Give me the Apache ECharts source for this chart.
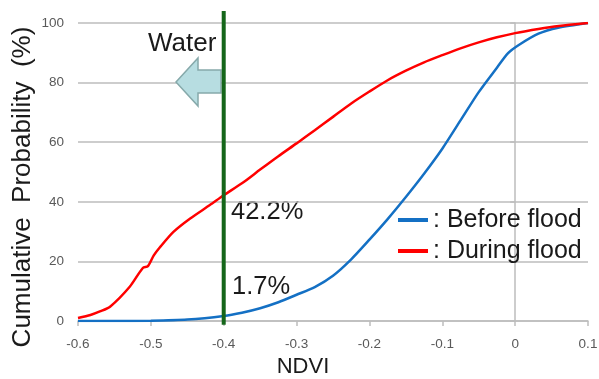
<!DOCTYPE html>
<html>
<head>
<meta charset="utf-8">
<script src="https://cdn.jsdelivr.net/npm/echarts@6/dist/echarts.min.js"></script>
<style>
  html, body { margin: 0; padding: 0; background: #fff; }
  #main { width: 599px; height: 379px; }
</style>
</head>
<body>
<div id="main"></div>
<script>
// NDVI values and cumulative probability (%)
var duringX = [-0.6, -0.583, -0.57, -0.556, -0.529, -0.511, -0.504, -0.496, -0.487, -0.469,
  -0.446, -0.419, -0.4, -0.375, -0.35, -0.325, -0.3, -0.275, -0.25, -0.225, -0.2, -0.175,
  -0.15, -0.125, -0.1, -0.075, -0.05, -0.025, 0, 0.032, 0.06, 0.1];
var duringY = [1, 2, 3.2, 4.8, 11.5, 17.8, 18.4, 22, 24.9, 29.9,
  34.4, 38.9, 42.2, 46.2, 50.8, 55.3, 59.6, 64, 68.5, 73, 77, 80.8,
  84, 86.8, 89.2, 91.5, 93.5, 95.2, 96.6, 98, 99, 100];

var beforeX = [-0.6, -0.55, -0.5, -0.45, -0.4, -0.375, -0.35, -0.325, -0.3, -0.275, -0.25,
  -0.225, -0.2, -0.175, -0.15, -0.125, -0.1, -0.075, -0.05, -0.025, -0.01, 0.005,
  0.032, 0.059, 0.1];
var beforeY = [0, 0, 0.1, 0.5, 1.7, 2.8, 4.3, 6.3, 8.8, 11.4, 15.2,
  20.7, 27.3, 34.2, 41.6, 49.4, 57.8, 67.3, 76.8, 85, 89.8, 92.6,
  96.4, 98.4, 100];

var thresholdX = -0.4;
var thresholdY = [-1.3, 104];

function pairs(xs, ys) {
  return xs.map(function (x, i) { return [x, ys[i]]; });
}

var font = 'Liberation Sans';
var grey = '#bdbdbd';

var chart = echarts.init(document.getElementById('main'));
var option = {
  animation: false,
  textStyle: { fontFamily: font },
  grid: { left: 78, right: 11, top: 23, bottom: 58, outerBoundsMode: 'none' },
  legend: {
    orient: 'vertical',
    left: 398,
    top: 206,
    padding: 0,
    itemGap: 3,
    itemWidth: 30,
    itemHeight: 4,
    icon: 'rect',
    formatter: ': {name}',
    data: ['Before flood', 'During flood'],
    textStyle: { fontSize: 25, color: '#1a1a1a', lineHeight: 28, fontFamily: font }
  },
  xAxis: {
    type: 'value',
    min: -0.6,
    max: 0.1,
    interval: 0.1,
    name: 'NDVI',
    nameLocation: 'middle',
    nameMoveOverlap: false,
    nameGap: 35,
    nameTextStyle: { fontSize: 22, color: '#1a1a1a', padding: [0, 60, 0, 0] },
    axisLine: { lineStyle: { color: grey, width: 1.5 } },
    axisTick: { show: true, length: 5, lineStyle: { color: grey, width: 1.5 } },
    axisLabel: {
      fontSize: 13.5, color: '#595959', margin: 16,
      formatter: function (v) { return String(+v.toFixed(1)); }
    },
    splitLine: { show: false }
  },
  yAxis: {
    type: 'value',
    min: 0,
    max: 100,
    interval: 20,
    name: 'Cumulative  Probability  (%)',
    nameLocation: 'middle',
    nameMoveOverlap: false,
    nameGap: 42,
    nameTextStyle: { fontSize: 26, color: '#1a1a1a', padding: [0, 30, 0, 0] },
    axisLine: { show: true, lineStyle: { color: grey, width: 1.5 } },
    axisTick: { show: true, length: 5, lineStyle: { color: grey, width: 1.5 } },
    axisLabel: { fontSize: 13.5, color: '#595959', margin: 14 },
    splitLine: { lineStyle: { color: grey, width: 1.5 } }
  },
  series: [
    {
      name: 'Before flood',
      type: 'line',
      data: pairs(beforeX, beforeY),
      smooth: 0.25,
      showSymbol: false,
      color: '#1470c4',
      lineStyle: { width: 2.5, color: '#1470c4' },
      z: 3
    },
    {
      name: 'During flood',
      type: 'line',
      data: pairs(duringX, duringY),
      smooth: 0.25,
      showSymbol: false,
      color: '#ff0000',
      lineStyle: { width: 2.5, color: '#ff0000' },
      z: 3
    },
    {
      name: 'threshold',
      type: 'line',
      data: thresholdY.map(function (y) { return [thresholdX, y]; }),
      showSymbol: false,
      clip: false,
      silent: true,
      lineStyle: { width: 4, color: '#15661a' },
      z: 4
    }
  ],
  graphic: [
    {
      type: 'polygon',
      shape: { points: [[176, 82], [198, 58], [198, 70], [221, 70], [221, 93], [198, 93], [198, 106]] },
      style: { fill: '#b7dde1', stroke: '#86a9aa', lineWidth: 1.5 },
      z: 1
    },
    {
      type: 'text', left: 148, top: 31,
      style: { text: 'Water', fontSize: 26, fontFamily: font, fill: '#1a1a1a' }
    },
    {
      type: 'text', left: 231, top: 199,
      style: { text: '42.2%', fontSize: 25.5, fontFamily: font, fill: '#1a1a1a' }
    },
    {
      type: 'text', left: 232, top: 274,
      style: { text: '1.7%', fontSize: 25.5, fontFamily: font, fill: '#1a1a1a' }
    }
  ]
};
chart.setOption(option);
</script>
</body>
</html>
